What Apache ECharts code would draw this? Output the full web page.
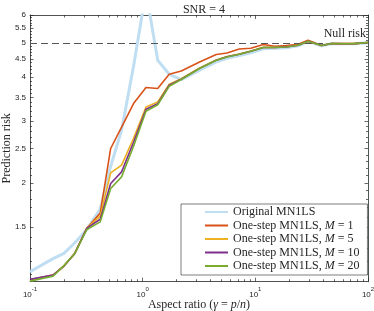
<!DOCTYPE html>
<html><head><meta charset="utf-8">
<script src="https://cdn.jsdelivr.net/npm/echarts/dist/echarts.min.js"></script>
<style>html,body{margin:0;padding:0;background:#fff}#c{width:374px;height:311px}</style>
</head><body><div id="c"></div>
<script>
// Aspect ratio grid (gamma = p/n)
const gamma = [0.1, 0.16, 0.2, 0.25, 0.32, 0.42, 0.52, 0.65, 0.83, 1.07, 1.36, 1.72, 2.2, 3.2, 4.5, 5.6, 7.2, 9.1, 11.8, 14.9, 18.9, 24, 29.4, 38.7, 47.5, 60, 76.5, 100];
const original = [1.117, 1.218, 1.26, 1.351, 1.474, 1.683, 2.23, 2.823, 4.289, 7.0, 4.461, 4.071, 3.93, 4.18, 4.417, 4.52, 4.60, 4.687, 4.81, 4.83, 4.842, 4.905, 5.051, 4.905, 4.97, 4.97, 4.97, 5.0];
const m1 = [1.06, 1.093, 1.16, 1.262, 1.486, 1.64, 2.504, 2.878, 3.361, 3.731, 3.707, 4.071, 4.16, 4.412, 4.631, 4.679, 4.804, 4.826, 4.944, 4.89, 4.913, 4.954, 5.084, 4.913, 4.976, 4.976, 4.976, 5.01];
const m5 = [1.055, 1.09, 1.16, 1.262, 1.486, 1.608, 2.134, 2.245, 2.678, 3.287, 3.396, 3.813, 3.952, 4.24, 4.47, 4.57, 4.65, 4.74, 4.855, 4.855, 4.872, 4.925, 5.055, 4.913, 4.976, 4.976, 4.976, 5.01];
const m10 = [1.063, 1.093, 1.16, 1.26, 1.486, 1.576, 1.991, 2.149, 2.609, 3.238, 3.356, 3.789, 3.94, 4.23, 4.465, 4.563, 4.642, 4.735, 4.85, 4.85, 4.87, 4.923, 5.053, 4.913, 4.976, 4.973, 4.976, 5.01];
const m20 = [1.051, 1.086, 1.163, 1.26, 1.474, 1.549, 1.927, 2.08, 2.541, 3.196, 3.334, 3.764, 3.932, 4.226, 4.461, 4.559, 4.64, 4.733, 4.848, 4.848, 4.868, 4.921, 5.051, 4.913, 4.976, 4.97, 4.976, 5.01];
const nullRisk = 5;
const seriesNames = ['Original MN1LS', 'One-step MN1LS, M = 1', 'One-step MN1LS, M = 5', 'One-step MN1LS, M = 10', 'One-step MN1LS, M = 20'];
const yTicks = [1.5, 2, 2.5, 3, 3.5, 4, 4.5, 5, 5.5, 6];
const yMinorTicks = [1.1, 1.2, 1.3, 1.4, 1.6, 1.7, 1.8, 1.9, 2.1, 2.2, 2.3, 2.4, 2.6, 2.7, 2.8, 2.9, 3.1, 3.2, 3.3, 3.4, 3.6, 3.7, 3.8, 3.9, 4.1, 4.2, 4.3, 4.4, 4.6, 4.7, 4.8, 4.9, 5.1, 5.2, 5.3, 5.4, 5.6, 5.7, 5.8, 5.9];
const xTicks = [0.1, 1, 10, 100];
const xMinorTicks = [0.2, 0.3, 0.4, 0.5, 0.6, 0.7, 0.8, 0.9, 2, 3, 4, 5, 6, 7, 8, 9, 20, 30, 40, 50, 60, 70, 80, 90];

const AX = '#262626';
const SERIF = 'Liberation Serif';
const SANS = 'Liberation Sans';
const colors = ['#bfdef1', '#d95319', '#edb120', '#7e2f8e', '#77ac30'];
const widths = [3, 1.6, 1.6, 1.6, 1.6];
const values = [original, m1, m5, m10, m20];

function xAx(pos, ticks, len, withLine, withLabel) {
  const a = {
    type: 'log', logBase: 10, min: 0.1, max: 100, position: pos,
    axisLine: {show: withLine, onZero: false, lineStyle: {color: AX, width: 0.8}},
    axisTick: {show: true, inside: true, length: len, customValues: ticks, lineStyle: {color: AX, width: 0.7}},
    axisLabel: {show: false},
    splitLine: {show: false}, minorTick: {show: false}
  };
  if (withLabel) {
    a.axisLabel = {
      show: true, customValues: xTicks, margin: 5,
      formatter: v => '{b|10}{s|' + Math.round(Math.log10(v)) + '}',
      rich: {
        b: {fontSize: 8, fontFamily: SANS, color: AX, lineHeight: 12, verticalAlign: 'bottom'},
        s: {fontSize: 6, fontFamily: SANS, color: AX, lineHeight: 6, verticalAlign: 'top'}
      }
    };
    a.name = 'Aspect ratio ({i|γ} = {i|p}/{i|n})';
    a.nameLocation = 'middle';
    a.nameGap = 17;
    a.nameMoveOverlap = false;
    a.nameTextStyle = {fontFamily: SERIF, fontSize: 12, color: AX,
      rich: {i: {fontFamily: SERIF, fontSize: 12, fontStyle: 'italic', color: AX}}};
  }
  return a;
}
function yAx(pos, ticks, len, withLine, withLabel) {
  const a = {
    type: 'log', logBase: 10, min: 1.047, max: 6, position: pos,
    axisLine: {show: withLine, onZero: false, lineStyle: {color: AX, width: 0.8}},
    axisTick: {show: true, inside: true, length: len, customValues: ticks, lineStyle: {color: AX, width: 0.7}},
    axisLabel: {show: false},
    splitLine: {show: false}, minorTick: {show: false}
  };
  if (withLabel) {
    a.axisLabel = {show: true, customValues: yTicks, margin: 4, fontSize: 8, fontFamily: SANS, color: AX,
      formatter: v => String(v)};
    a.name = 'Prediction risk';
    a.nameLocation = 'middle';
    a.nameRotate = 90;
    a.nameGap = 17;
    a.nameMoveOverlap = false;
    a.nameTextStyle = {fontFamily: SERIF, fontSize: 12, color: AX};
  }
  return a;
}

const series = values.map((vals, i) => ({
  name: seriesNames[i], type: 'line', xAxisIndex: 0, yAxisIndex: 0,
  data: gamma.map((g, j) => [g, vals[j]]),
  symbol: 'none', clip: true, z: 3 + i,
  lineStyle: {color: colors[i], width: widths[i]},
  itemStyle: {color: colors[i]}
}));
series.unshift({
  name: 'Null risk', type: 'line', xAxisIndex: 0, yAxisIndex: 0, data: [], z: 2,
  markLine: {
    silent: true, symbol: ['none', 'none'],
    lineStyle: {color: '#555', type: [7, 4], width: 1.1},
    label: {show: true, position: 'insideEndTop', formatter: 'Null risk', fontFamily: SERIF, fontSize: 12, color: AX, distance: [2, 3]},
    data: [{yAxis: nullRisk}]
  }
});

const chart = echarts.init(document.getElementById('c'), null, {renderer: 'canvas'});
chart.setOption({
  animation: false,
  backgroundColor: '#fff',
  title: {text: 'SNR = 4', left: 199, top: -1, textAlign: 'center',
    textStyle: {fontFamily: SERIF, fontSize: 12, fontWeight: 'normal', color: AX}},
  grid: {left: 30, right: 6, top: 15, bottom: 29.3, containLabel: false, outerBoundsMode: 'none'},
  xAxis: [xAx('bottom', xTicks, 4, true, true), xAx('bottom', xMinorTicks, 2.5, false, false),
          xAx('top', xTicks, 4, true, false), xAx('top', xMinorTicks, 2.5, false, false)],
  yAxis: [yAx('left', yTicks, 3.5, true, true), yAx('left', yMinorTicks, 2, false, false),
          yAx('right', yTicks, 3.5, true, false), yAx('right', yMinorTicks, 2, false, false)],
  legend: {
    data: seriesNames, orient: 'vertical', left: 181, top: 204,
    itemWidth: 23, itemHeight: 12, itemGap: 1.5,
    padding: [2, 8, 3, 23],
    backgroundColor: '#fff', borderColor: AX, borderWidth: 0.6,
    itemStyle: {opacity: 0},
    textStyle: {fontFamily: SERIF, fontSize: 12, color: AX, lineHeight: 12,
      rich: {i: {fontFamily: SERIF, fontSize: 12, fontStyle: 'italic', color: AX, lineHeight: 12}}},
    formatter: name => name.replace('M =', '{i|M} =')
  },
  series: series
});
</script></body></html>
